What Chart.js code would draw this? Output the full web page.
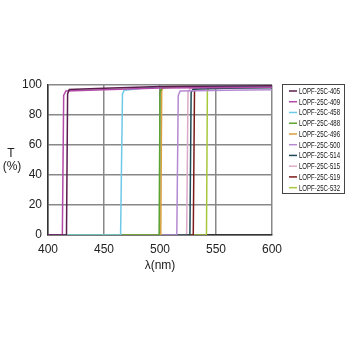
<!DOCTYPE html>
<html><head><meta charset="utf-8">
<script src="https://cdn.jsdelivr.net/npm/chart.js@4.4.1/dist/chart.umd.min.js"></script>
<style>html,body{margin:0;padding:0;background:#fff}#wrap{width:350px;height:350px}</style>
</head><body><div id="wrap"><canvas id="c" width="350" height="350"></canvas></div>
<script>
const xTicks = [400, 450, 500, 550, 600];
const yTicks = [0, 20, 40, 60, 80, 100];
const seriesNames = ["LOPF-25C-405","LOPF-25C-409","LOPF-25C-458","LOPF-25C-488","LOPF-25C-496","LOPF-25C-500","LOPF-25C-514","LOPF-25C-515","LOPF-25C-519","LOPF-25C-532"];
const seriesColors = ["#5a1d4e","#b44aa8","#6ec8e8","#5aa532","#dba03c","#b48ad2","#1f4a55","#dcaac8","#7a1a1a","#a8c83c"];
// wavelength (nm) and transmittance (%) per filter
const wl405 = [400, 416.5, 417.5, 419, 450, 500, 600];
const t405  = [0, 0, 94, 97, 97.8, 99, 99.5];
const wl409 = [400, 412.8, 414, 416, 450, 500, 600];
const t409  = [0, 0, 93, 96, 96.8, 98, 98.5];
const wl458 = [400, 464.8, 466.5, 468, 500, 600];
const t458  = [0, 0, 94, 96.5, 99, 99.5];
const wl488 = [400, 499.2, 500, 501.5, 520, 600];
const t488  = [0, 0, 95, 98, 99, 99.5];
const wl496 = [400, 500.7, 501.5, 503, 530, 600];
const t496  = [0, 0, 96, 99, 99.5, 100];
const wl500 = [400, 515, 516.3, 518, 560, 600];
const t500  = [0, 0, 93, 96, 96.5, 96.8];
const wl514 = [400, 526.7, 527.8, 529.5, 560, 600];
const t514  = [0, 0, 95, 97.2, 97.8, 98.2];
const wl515 = [400, 523.8, 525, 527, 560, 600];
const t515  = [0, 0, 95, 97.8, 98.5, 99];
const wl519 = [400, 529.7, 530.8, 532.5, 560, 600];
const t519  = [0, 0, 96, 98.5, 99, 99.3];
const wl532 = [400, 541.5, 542.3, 544, 570, 600];
const t532  = [0, 0, 96, 99, 99.5, 99.8];

const wls = [wl405, wl409, wl458, wl488, wl496, wl500, wl514, wl515, wl519, wl532];
const ts  = [t405, t409, t458, t488, t496, t500, t514, t515, t519, t532];

const datasets = seriesNames.map((n, i) => ({
  label: n,
  data: wls[i].map((x, j) => ({x: x, y: ts[i][j]})),
  borderColor: seriesColors[i],
  backgroundColor: seriesColors[i],
  borderWidth: 1.5,
  pointRadius: 0,
  tension: 0,
  fill: false
}));

const FONT = "'Liberation Sans', Arial, sans-serif";

const extras = {
  id: 'extras',
  afterDraw(chart) {
    const ctx = chart.ctx;
    ctx.save();
    // y-axis title
    ctx.fillStyle = '#222';
    ctx.font = "12px " + FONT;
    ctx.textAlign = 'center';
    ctx.textBaseline = 'middle';
    ctx.fillText('T', 11, 154);
    ctx.fillText('(%)', 12, 167);
    // legend
    const bx = 282, by = 84, bw = 62, bh = 109;
    ctx.strokeStyle = '#444';
    ctx.lineWidth = 1;
    ctx.strokeRect(bx + 0.5, by + 0.5, bw, bh);
    ctx.font = "8.5px " + FONT;
    ctx.textAlign = 'left';
    chart.data.datasets.forEach((d, i) => {
      const y = 91 + i * 10.74;
      ctx.strokeStyle = d.borderColor;
      ctx.lineWidth = 1.5;
      ctx.beginPath();
      ctx.moveTo(289, y); ctx.lineTo(297, y); ctx.stroke();
      ctx.fillStyle = '#111';
      const w = ctx.measureText(d.label).width;
      ctx.save();
      ctx.translate(299, y + 0.5);
      ctx.scale(41 / w, 1);
      ctx.fillText(d.label, 0, 0);
      ctx.restore();
    });
    ctx.restore();
  }
};

new Chart(document.getElementById('c'), {
  type: 'line',
  data: { datasets },
  plugins: [extras],
  options: {
    responsive: false,
    animation: false,
    layout: { padding: { left: 0, right: 78, top: 85, bottom: 77 } },
    plugins: { legend: { display: false }, tooltip: { enabled: false } },
    scales: {
      x: {
        type: 'linear', min: 400, max: 600,
        afterFit: s => { s.height = 38; },
        afterBuildTicks: s => { s.ticks = xTicks.map(v => ({value: v})); },
        ticks: { color: '#222', font: { size: 12, family: FONT }, padding: 7 },
        grid: { color: '#888', lineWidth: 1.5, drawTicks: false },
        border: { color: '#333', width: 1.5 },
        title: { display: true, text: 'λ(nm)', color: '#222', font: { size: 12, family: FONT }, padding: { top: 4, bottom: 0 } }
      },
      y: {
        type: 'linear', min: 0, max: 100,
        afterFit: s => { s.width = 48; },
        afterBuildTicks: s => { s.ticks = yTicks.map(v => ({value: v})); },
        ticks: { color: '#222', font: { size: 12, family: FONT }, padding: 6 },
        grid: { color: '#888', lineWidth: 1.5, drawTicks: false },
        border: { color: '#333', width: 1.5 }
      }
    }
  }
});
</script></body></html>
